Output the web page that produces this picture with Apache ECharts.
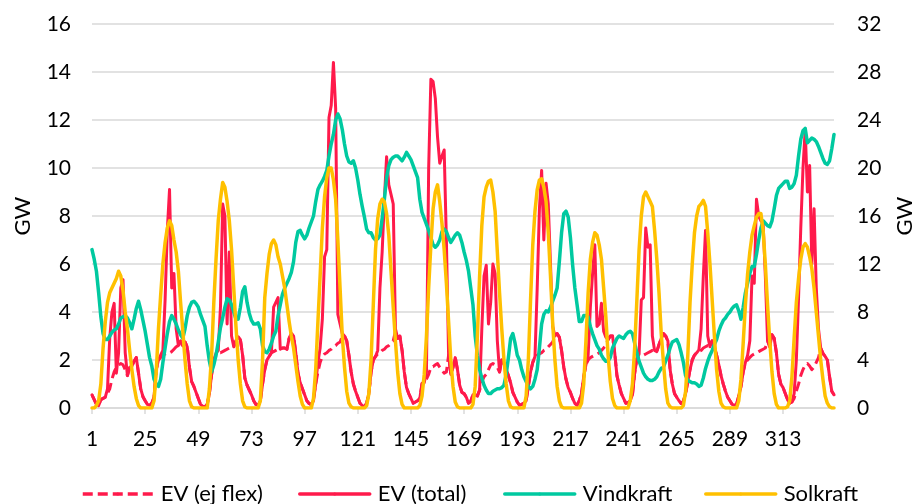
<!DOCTYPE html>
<html>
<head>
<meta charset="utf-8">
<script src="https://cdn.jsdelivr.net/npm/echarts/dist/echarts.min.js"></script>
<style>
  html, body { margin: 0; padding: 0; background: #ffffff; }
  #chart { width: 917px; height: 504px; }
</style>
</head>
<body>
<div id="chart"></div>
<script>
// Hourly values over 14 days (336 hours). EV load in GW on the left axis,
// wind and solar production in GW on the right axis.
const hours = Array.from({ length: 336 }, (_, i) => String(i + 1));

const seriesNames = ['EV (ej flex)', 'EV (total)', 'Vindkraft', 'Solkraft'];

const evEjFlex = [
  0.55,0.35,0.15,0.1,0.35,0.4, 0.45,0.6,0.8,1.2,1.5,1.7, 1.8,1.85,1.8,1.6,1.35,1.7, 1.75,1.95,2.1,1.45,0.8,0.47,
  0.3,0.15,0.12,0.2,0.45,1.6, 2.0,2.1,2.2,2.25,2.3,2.3, 2.35,2.45,2.55,2.6,2.7,2.6, 2.75,2.55,1.7,1.1,0.9,0.65,
  0.4,0.15,0.08,0.05,0.15,0.6, 1.4,2.0,2.2,2.3,2.3,2.35, 2.4,2.45,2.5,2.55,2.55,2.8, 2.97,2.85,2.2,1.25,0.95,0.75,
  0.55,0.3,0.15,0.12,0.3,1.0, 1.6,2.0,2.15,2.3,2.35,2.4, 2.45,2.45,2.5,2.5,2.45,2.9, 3.1,3.0,2.3,1.45,1.05,0.8,
  0.55,0.3,0.19,0.14,0.4,1.0, 1.5,1.9,2.14,2.25,2.3,2.4, 2.45,2.55,2.6,2.7,2.75,3.0, 3.0,2.8,2.2,1.5,1.0,0.7,
  0.45,0.2,0.1,0.05,0.2,0.6, 1.5,2.0,2.15,2.25,2.3,2.4, 2.45,2.55,2.6,2.7,2.8,3.2, 2.9,3.0,2.4,1.5,0.85,0.6,
  0.4,0.2,0.25,0.3,0.4,1.0, 1.05,1.2,1.4,1.7,1.72,1.8, 1.85,1.7,1.58,1.45,1.5,2.2, 1.4,1.7,2.1,1.6,0.95,0.65,
  0.6,0.45,0.2,0.28,0.55,0.55, 0.5,0.75,1.1,1.3,1.4,1.6, 1.8,1.85,1.8,1.7,1.5,2.0, 1.85,1.6,1.35,1.05,0.65,0.45,
  0.25,0.12,0.15,0.2,0.3,0.9, 1.5,1.9,2.1,2.2,2.25,2.3, 2.4,2.45,2.55,2.65,2.75,3.0, 3.1,2.95,2.4,1.7,1.2,0.85,
  0.65,0.4,0.19,0.12,0.3,0.6, 1.3,1.8,2.0,2.1,2.15,2.2, 2.25,2.3,2.4,2.5,2.6,2.85, 3.0,3.0,2.3,1.35,0.95,0.6,
  0.4,0.2,0.22,0.3,0.55,1.45, 2.05,2.15,2.2,2.2,2.25,2.3, 2.35,2.4,2.4,2.35,2.65,2.9, 3.1,3.0,2.8,1.6,1.0,0.6,
  0.45,0.3,0.19,0.28,0.6,1.1, 1.6,2.0,2.2,2.3,2.35,2.4, 2.5,2.55,2.6,2.55,2.8,2.55, 2.2,1.8,1.35,1.0,0.7,0.45,
  0.3,0.15,0.12,0.15,0.5,0.9, 1.5,1.9,2.0,2.1,2.2,2.25, 2.3,2.35,2.4,2.45,2.5,2.8, 2.55,3.05,2.9,2.3,1.4,1.0,
  0.85,0.6,0.35,0.2,0.25,0.4, 0.7,1.0,1.35,1.6,1.8,1.85, 1.75,1.6,1.7,1.9,2.1,2.5, 2.28,2.15,2.0,1.3,0.7,0.55
];

const evTotal = [
  0.55,0.35,0.15,0.1,0.35,0.4, 0.45,0.8,2.9,4.0,4.36,1.45, 2.3,5.0,5.35,2.3,1.35,1.7, 1.75,1.95,2.1,1.45,0.8,0.47,
  0.3,0.15,0.12,0.2,0.45,1.6, 2.0,2.2,2.4,4.5,7.4,9.1, 5.0,5.6,3.3,2.6,2.8,2.6, 2.75,2.55,1.7,1.1,0.9,0.65,
  0.4,0.15,0.08,0.05,0.15,0.6, 1.4,2.0,2.28,2.4,4.2,8.5, 8.0,3.5,6.5,3.0,2.55,2.8, 2.97,2.85,2.2,1.25,0.95,0.75,
  0.55,0.3,0.15,0.12,0.3,1.0, 1.6,2.0,2.15,2.3,4.2,4.4, 4.6,2.45,2.5,2.5,2.45,2.9, 3.1,3.0,2.3,1.45,1.05,0.8,
  0.55,0.3,0.19,0.14,0.3,1.0, 1.9,2.5,3.7,6.3,6.6,12.1, 12.6,14.4,12.5,3.9,3.5,3.1, 3.0,2.8,2.2,1.5,1.0,0.7,
  0.45,0.2,0.1,0.05,0.2,0.6, 1.5,2.0,2.15,2.4,5.0,6.5, 8.7,10.47,9.3,8.9,8.5,3.3, 2.9,3.0,2.4,1.5,0.85,0.6,
  0.4,0.2,0.25,0.3,0.4,1.03, 1.05,1.5,10.0,13.7,13.6,12.9, 11.3,10.2,10.5,10.75,7.0,2.2, 1.4,1.7,2.1,1.6,0.95,0.65,
  0.6,0.45,0.2,0.28,0.55,0.55, 0.5,0.75,3.3,5.5,5.95,3.5, 4.4,6.0,5.6,2.8,1.5,2.0, 1.85,1.6,1.35,1.05,0.65,0.45,
  0.25,0.12,0.15,0.2,0.3,0.9, 1.5,1.9,2.14,5.0,8.3,9.9, 7.0,9.36,8.5,6.0,3.4,3.0, 3.1,2.95,2.4,1.7,1.2,0.85,
  0.65,0.4,0.19,0.12,0.3,0.6, 1.3,1.8,2.2,4.2,5.6,6.8, 3.4,3.5,4.36,3.2,2.95,2.85, 3.0,3.0,2.3,1.35,0.95,0.6,
  0.4,0.2,0.22,0.3,0.55,1.45, 2.05,2.25,4.5,4.6,7.5,6.7, 6.8,3.0,2.4,2.35,2.65,2.9, 3.1,3.0,2.8,1.6,1.0,0.6,
  0.45,0.3,0.19,0.28,0.6,1.1, 1.6,2.0,2.2,2.3,2.42,3.3, 5.5,7.4,3.0,2.55,2.8,2.55, 2.2,1.8,1.35,1.0,0.7,0.45,
  0.3,0.15,0.12,0.15,0.5,0.9, 1.5,1.9,2.2,2.8,5.5,5.2, 8.7,8.0,7.8,7.7,5.5,2.8, 2.55,3.05,2.9,2.3,1.4,1.0,
  0.85,0.6,0.35,0.2,0.25,0.6, 2.0,4.6,7.5,10.0,11.6,9.0, 10.1,6.0,8.3,5.0,3.3,2.5, 2.28,2.15,2.0,1.3,0.7,0.55
];

const vindkraft = [
  13.2,12.4,11.4,9.6,7.6,6.2, 5.7,5.7,6.0,6.3,6.5,6.6, 7.0,7.5,7.6,7.7,7.5,7.1, 6.6,7.4,8.3,8.9,8.2,7.3,
  6.4,5.3,4.2,3.5,2.4,2.0, 1.8,2.4,3.8,5.0,6.2,7.2, 7.7,7.4,7.0,6.5,6.1,5.8, 6.6,7.7,8.4,8.8,8.9,8.7,
  8.4,7.8,7.3,6.8,5.2,3.9, 3.0,3.6,4.4,5.5,6.7,7.5, 8.4,9.1,9.0,8.6,8.0,7.4, 7.4,8.4,9.7,10.1,8.8,7.9,
  7.3,7.0,7.0,7.1,6.6,5.2, 4.7,4.6,4.9,5.4,6.0,6.4, 7.7,8.6,9.5,10.0,10.4,10.8, 11.3,12.2,13.8,14.7,14.8,14.4,
  14.1,14.4,15.0,15.5,16.0,17.2, 18.2,18.6,18.9,19.3,19.8,21.0, 22.0,22.8,24.0,24.5,24.1,23.2, 22.0,21.0,20.5,20.4,20.6,20.0,
  19.0,17.8,16.8,15.9,14.9,14.6, 14.6,14.2,14.0,14.1,14.4,15.8, 17.4,19.2,20.2,20.7,20.9,21.0, 21.0,20.8,20.6,20.9,21.3,21.0,
  20.7,20.2,19.7,19.2,17.4,16.3, 15.8,15.3,14.8,14.2,13.6,13.4, 13.6,14.0,14.7,14.9,14.7,14.2, 13.8,14.1,14.4,14.6,14.4,13.8,
  13.0,12.3,11.4,10.0,8.6,6.0, 4.4,3.2,2.5,1.9,1.5,1.2, 1.2,1.4,1.5,1.6,1.6,1.7, 1.9,2.8,4.2,5.8,6.2,5.4,
  4.4,4.0,3.2,2.6,2.2,1.8, 1.6,1.8,2.4,3.2,5.0,7.0, 7.8,8.1,8.0,8.4,8.9,9.4, 10.0,12.2,14.6,16.2,16.4,15.9,
  14.2,11.9,10.0,8.6,7.2,7.2, 7.7,7.7,7.6,6.8,6.2,5.7, 5.2,4.9,4.4,4.1,3.9,3.9, 4.2,5.0,5.4,5.8,6.0,5.9,
  5.8,6.1,6.3,6.4,6.2,5.4, 4.6,3.9,3.4,2.9,2.6,2.4, 2.3,2.3,2.4,2.6,3.0,3.3, 3.4,3.9,4.4,5.0,5.5,5.6,
  5.7,5.3,4.6,3.8,2.7,2.3, 2.2,2.1,2.1,2.0,1.8,1.9, 2.5,3.3,3.9,4.4,4.8,5.3, 5.7,6.4,6.9,7.3,7.5,7.8,
  8.0,8.3,8.5,8.6,8.1,7.4, 8.4,9.6,10.4,11.2,11.8,11.8, 12.8,14.0,15.0,15.6,15.4,15.2, 15.1,15.6,16.6,17.7,18.3,18.5,
  18.7,18.9,18.9,18.3,18.4,18.7, 19.4,21.0,22.4,23.1,23.3,22.1, 22.3,22.5,22.4,22.2,21.8,21.3, 20.8,20.4,20.3,20.6,21.6,22.8
];

const solkraft = [
  0,0,0.2,0.6,2.0,5.0, 7.2,8.8,9.6,10.0,10.4,10.8, 11.4,11.0,9.8,8.0,6.6,4.8, 3.2,1.8,0.8,0.2,0,0,
  0,0,0,0,0.6,3.0, 6.6,9.4,12.0,13.8,15.0,15.6, 15.2,14.0,13.0,11.4,8.8,6.4, 4.0,2.0,0.6,0.1,0,0,
  0,0,0,0,0,1.6, 4.4,8.8,12.4,15.6,17.4,18.8, 18.4,17.2,15.6,13.2,10.0,6.8, 4.0,2.0,0.6,0.1,0,0,
  0,0,0,0,0.6,4.0, 9.2,11.2,12.8,13.7,14.0,13.6, 12.6,12.0,11.0,10.0,8.6,7.2, 6.0,5.0,3.6,2.2,1.0,0.3,
  0,0,0,0,0.8,3.2, 7.2,11.0,15.0,17.6,19.2,20.0, 20.0,19.0,17.4,14.0,10.0,6.0, 3.4,1.4,0.4,0.1,0,0,
  0,0,0,0,0.2,1.2, 4.0,8.6,13.2,15.8,17.0,17.4, 17.2,16.2,14.4,11.4,8.4,5.6, 3.0,1.2,0.3,0,0,0,
  0,0,0,0,0.2,1.0, 2.8,6.0,10.0,13.6,16.6,18.0, 18.6,17.2,15.4,13.2,10.4,7.2, 4.0,1.8,0.5,0.1,0,0,
  0,0,0,0,0.3,1.8, 6.0,11.0,15.2,17.6,18.4,18.9, 19.0,18.0,16.4,13.0,9.6,6.6, 4.0,2.0,0.6,0.1,0,0,
  0,0,0,0,1.0,4.0, 9.0,13.6,16.4,18.2,19.0,19.1, 18.4,17.2,14.6,11.0,7.0,4.0, 1.8,0.6,0.1,0,0,0,
  0,0,0,0,0,0.4, 2.0,5.6,9.6,12.4,13.8,14.6, 14.4,13.6,12.4,10.0,7.6,4.4, 2.2,0.8,0.2,0,0,0,
  0,0,0,0.6,2.0,5.0, 9.0,13.2,16.0,17.6,18.0,17.6, 17.2,16.8,14.8,12.4,9.6,6.2, 3.8,1.6,0.4,0.1,0,0,
  0,0,0,0.2,1.4,4.4, 8.8,12.0,14.6,16.0,16.8,17.0, 17.3,16.8,14.6,12.0,9.0,6.0, 3.2,1.4,0.4,0.1,0,0,
  0,0,0,0,0.6,2.4, 5.4,8.6,11.2,13.0,14.4,15.2, 15.9,16.2,16.2,14.8,12.0,8.6, 5.6,3.0,1.2,0.3,0,0,
  0,0,0.1,0.6,2.6,5.8, 8.8,10.8,12.4,13.4,13.7,13.4, 12.6,11.6,10.0,8.0,6.0,4.0, 2.4,1.0,0.4,0.1,0,0
];

const FONT = 'Lato, "Liberation Sans", Arial, sans-serif';
const TEXT = '#000000';
const GRID = '#D9D9D9';
const RED = '#FF1A4B';
const TEAL = '#00C9A0';
const GOLD = '#FFC000';

const chart = echarts.init(document.getElementById('chart'), null, { renderer: 'canvas' });

// a label and a tick every 24 hours: 1, 25, 49, ...
const everyDay = (idx) => idx % 24 === 0;

// one legend per entry so that each entry sits in its own slot
const legendLeft = [76, 293, 498, 699];
const legends = seriesNames.map((n, i) => ({
  data: [n],
  left: legendLeft[i],
  top: 478,
  orient: 'horizontal',
  itemWidth: 70,
  itemHeight: 4,
  selectedMode: false,
  lineStyle: { width: 3.5 },
  textStyle: { fontFamily: FONT, fontSize: 22, color: TEXT, padding: [0, 0, 0, 3] }
}));

const baseLine = { type: 'line', symbol: 'none', showSymbol: false, silent: true,
  emphasis: { disabled: true }, animation: false };

chart.setOption({
  animation: false,
  backgroundColor: '#ffffff',
  grid: { left: 92, right: 83, top: 24, bottom: 96, containLabel: false, outerBoundsMode: 'none' },
  legend: legends,
  xAxis: {
    type: 'category',
    data: hours,
    boundaryGap: false,
    axisLine: { lineStyle: { color: GRID, width: 1.5 } },
    axisTick: { show: true, interval: everyDay, length: 6, lineStyle: { color: GRID, width: 1.5 } },
    axisLabel: { interval: everyDay, margin: 21, color: TEXT, fontFamily: FONT, fontSize: 21, hideOverlap: false },
    splitLine: { show: false }
  },
  yAxis: [
    {
      type: 'value', position: 'left', min: 0, max: 16, interval: 2,
      name: 'GW', nameLocation: 'middle', nameGap: 58, nameRotate: 90,
      nameTextStyle: { fontFamily: FONT, fontSize: 22, color: TEXT },
      axisLine: { show: false }, axisTick: { show: false },
      axisLabel: { margin: 21, color: TEXT, fontFamily: FONT, fontSize: 21 },
      splitLine: { show: true, lineStyle: { color: GRID, width: 1.5 } }
    },
    {
      type: 'value', position: 'right', min: 0, max: 32, interval: 4,
      name: 'GW', nameLocation: 'middle', nameGap: 60, nameRotate: 90,
      nameTextStyle: { fontFamily: FONT, fontSize: 22, color: TEXT },
      axisLine: { show: false }, axisTick: { show: false },
      axisLabel: { margin: 23, color: TEXT, fontFamily: FONT, fontSize: 21 },
      splitLine: { show: false }
    }
  ],
  series: [
    Object.assign({}, baseLine, {
      name: seriesNames[0], yAxisIndex: 0, data: evEjFlex, z: 2,
      itemStyle: { color: RED },
      lineStyle: { color: RED, width: 3, type: [10, 5], cap: 'butt', join: 'round' }
    }),
    Object.assign({}, baseLine, {
      name: seriesNames[1], yAxisIndex: 0, data: evTotal, z: 3,
      itemStyle: { color: RED },
      lineStyle: { color: RED, width: 3, cap: 'round', join: 'round' }
    }),
    Object.assign({}, baseLine, {
      name: seriesNames[2], yAxisIndex: 1, data: vindkraft, z: 4,
      itemStyle: { color: TEAL },
      lineStyle: { color: TEAL, width: 3.5, cap: 'round', join: 'round' }
    }),
    Object.assign({}, baseLine, {
      name: seriesNames[3], yAxisIndex: 1, data: solkraft, z: 5,
      itemStyle: { color: GOLD },
      lineStyle: { color: GOLD, width: 3.5, cap: 'round', join: 'round' }
    })
  ]
});
</script>
</body>
</html>
